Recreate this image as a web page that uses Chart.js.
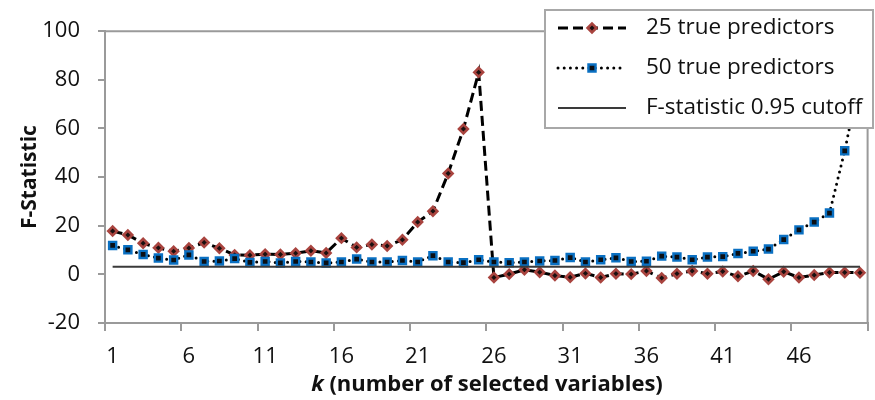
<!DOCTYPE html>
<html>
<head>
<meta charset="utf-8">
<script src="https://cdn.jsdelivr.net/npm/chart.js@4/dist/chart.umd.min.js"></script>
<style>
  html, body { margin: 0; padding: 0; background: #fff; }
  #wrap { width: 875px; height: 400px; }
</style>
</head>
<body>
<div id="wrap"><canvas id="chart" width="875" height="400"></canvas></div>
<script>
// k = number of selected variables
const kValues = ['1','2','3','4','5','6','7','8','9','10',
  '11','12','13','14','15','16','17','18','19','20',
  '21','22','23','24','25','26','27','28','29','30',
  '31','32','33','34','35','36','37','38','39','40',
  '41','42','43','44','45','46','47','48','49','50'];

// labels shown on the k axis
const kTickLabels = ['1','6','11','16','21','26','31','36','41','46'];

// F-statistic with 25 true predictors
const fStat25 = [17.8, 16.2, 12.8, 10.9, 9.5, 10.8, 13.1, 10.7, 8.0, 7.9,
  8.3, 8.2, 8.7, 9.7, 8.8, 14.9, 11.1, 12.3, 11.7, 14.2,
  21.5, 26.0, 41.5, 59.8, 83.1, -1.3, 0.1, 1.9, 0.9, -0.5,
  -1.2, 0.4, -1.3, 0.3, 0.1, 1.4, -1.5, 0.3, 1.4, 0.3,
  1.2, -0.8, 1.4, -2.0, 1.1, -1.3, -0.3, 0.8, 0.8, 0.7];

// F-statistic with 50 true predictors
const fStat50 = [11.9, 10.1, 8.2, 6.7, 5.9, 8.0, 5.3, 5.5, 6.5, 4.9,
  5.3, 4.7, 5.3, 5.1, 4.7, 5.1, 6.3, 5.1, 5.1, 5.7,
  5.1, 7.7, 5.1, 4.8, 6.0, 5.1, 4.8, 5.1, 5.5, 5.7,
  6.9, 5.1, 6.0, 6.8, 5.3, 5.4, 7.5, 7.1, 6.0, 7.1,
  7.3, 8.6, 9.5, 10.4, 14.3, 18.3, 21.5, 25.2, 50.8, 81.0];

// 0.95 critical value of the F distribution
const cutoffLevel = 3.1;
const cutoffSpan = ['1', '50'];

// y axis range
const yMin = -20, yMax = 100, yStep = 20;

const FONT = '"Open Sans", Lato, sans-serif';
const AXIS_GRAY = '#9a9a9a';
const TEXT = '#111111';

// Light frame on the top and right of the plot area
const plotFrame = {
  id: 'plotFrame',
  beforeDatasetsDraw(chart) {
    const { ctx, chartArea: a } = chart;
    ctx.save();
    ctx.strokeStyle = AXIS_GRAY;
    ctx.lineWidth = 2;
    ctx.beginPath();
    ctx.moveTo(a.left, a.top);
    ctx.lineTo(a.right, a.top);
    ctx.lineTo(a.right, a.bottom);
    ctx.stroke();
    ctx.restore();
  }
};

// k-axis title: italic "k" followed by the description
const kTitle = {
  id: 'kTitle',
  afterDraw(chart) {
    const { ctx } = chart;
    const o = chart.options.plugins.kTitle;
    const italic = 'italic bold ' + o.size + 'px ' + FONT;
    const bold = 'bold ' + o.size + 'px ' + FONT;
    ctx.save();
    ctx.fillStyle = TEXT;
    ctx.textBaseline = 'middle';
    ctx.font = italic;
    const w1 = ctx.measureText(o.italicPart).width;
    ctx.font = bold;
    const w2 = ctx.measureText(o.rest).width;
    const x0 = o.x - (w1 + w2) / 2;
    ctx.font = italic;
    ctx.textAlign = 'left';
    ctx.fillText(o.italicPart, x0, o.y);
    ctx.font = bold;
    ctx.fillText(o.rest, x0 + w1, o.y);
    ctx.restore();
  }
};

// Boxed legend in the upper right corner, drawn from the dataset styles
const boxLegend = {
  id: 'boxLegend',
  afterDraw(chart) {
    const { ctx } = chart;
    const o = chart.options.plugins.boxLegend;
    ctx.save();
    ctx.fillStyle = '#ffffff';
    ctx.fillRect(o.left, o.top, o.right - o.left, o.bottom - o.top);
    ctx.strokeStyle = '#a8a8a8';
    ctx.lineWidth = 2;
    ctx.strokeRect(o.left, o.top, o.right - o.left, o.bottom - o.top);
    chart.data.datasets.forEach((ds, i) => {
      const y = o.top + o.firstRow + i * o.rowGap;
      ctx.save();
      ctx.beginPath();
      ctx.setLineDash(ds.borderDash || []);
      ctx.lineCap = ds.borderCapStyle || 'butt';
      ctx.lineWidth = ds.borderWidth;
      ctx.strokeStyle = ds.borderColor;
      ctx.moveTo(o.sampleLeft, y);
      ctx.lineTo(o.sampleRight, y);
      ctx.stroke();
      ctx.restore();
      if (ds.pointRadius > 0) {
        ctx.save();
        ctx.fillStyle = ds.pointBackgroundColor;
        ctx.strokeStyle = ds.pointBorderColor;
        ctx.lineWidth = ds.pointBorderWidth;
        ctx.setLineDash([]);
        Chart.helpers.drawPoint(ctx, {
          pointStyle: ds.pointStyle, radius: ds.pointRadius,
          borderWidth: ds.pointBorderWidth, rotation: 0
        }, (o.sampleLeft + o.sampleRight) / 2, y);
        ctx.restore();
      }
      ctx.fillStyle = TEXT;
      ctx.font = o.fontSize + 'px ' + FONT;
      ctx.textBaseline = 'middle';
      ctx.textAlign = 'left';
      ctx.fillText(ds.label, o.textLeft, y);
    });
    ctx.restore();
  }
};

new Chart(document.getElementById('chart'), {
  type: 'line',
  data: {
    labels: kValues,
    datasets: [
      {
        label: '25 true predictors',
        data: fStat25,
        order: 3,
        borderColor: '#000000',
        borderWidth: 3,
        borderDash: [10, 5],
        borderCapStyle: 'butt',
        tension: 0,
        pointStyle: 'rectRot',
        pointRadius: 4.4,
        pointBorderWidth: 2.6,
        pointBackgroundColor: '#1a1010',
        pointBorderColor: '#a9443f'
      },
      {
        label: '50 true predictors',
        data: fStat50,
        order: 2,
        borderColor: '#000000',
        borderWidth: 3,
        borderDash: [0, 6.2],
        borderCapStyle: 'round',
        tension: 0,
        pointStyle: 'rect',
        pointRadius: 5,
        pointBorderWidth: 2.4,
        pointBackgroundColor: '#0b0f14',
        pointBorderColor: '#0a70c2'
      },
      {
        label: 'F-statistic 0.95 cutoff',
        data: cutoffSpan.map(k => ({ x: k, y: cutoffLevel })),
        order: 1,
        borderColor: '#3a3a3a',
        borderWidth: 2,
        tension: 0,
        pointRadius: 0
      }
    ]
  },
  options: {
    responsive: false,
    animation: false,
    events: [],
    layout: { padding: { top: 23, right: 3, left: 0, bottom: 0 } },
    plugins: {
      legend: { display: false },
      tooltip: { enabled: false },
      kTitle: { italicPart: 'k', rest: ' (number of selected variables)', size: 22, x: 487, y: 385 },
      boxLegend: {
        left: 545, top: 10, right: 873, bottom: 128,
        firstRow: 18, rowGap: 40,
        sampleLeft: 558, sampleRight: 626, textLeft: 646, fontSize: 22.5
      }
    },
    scales: {
      x: {
        type: 'category',
        offset: true,
        grid: {
          offset: true,
          drawOnChartArea: false,
          drawTicks: true,
          tickLength: 8,
          lineWidth: 2,
          color: c => (c.index === undefined || c.index % 5 === 0) ? AXIS_GRAY : 'rgba(0,0,0,0)'
        },
        border: { display: true, color: AXIS_GRAY, width: 2 },
        ticks: {
          autoSkip: false,
          maxRotation: 0,
          minRotation: 0,
          padding: 13,
          color: TEXT,
          font: { family: FONT, size: 22 },
          callback(value) {
            const lab = this.getLabelForValue(value);
            return kTickLabels.includes(lab) ? lab : '';
          }
        },
        afterFit(scale) { scale.height = 77; }
      },
      y: {
        min: yMin,
        max: yMax,
        grid: { drawOnChartArea: false, drawTicks: true, tickLength: 7, lineWidth: 2, color: AXIS_GRAY },
        border: { display: true, color: AXIS_GRAY, width: 2 },
        ticks: {
          stepSize: yStep,
          padding: 18,
          color: TEXT,
          font: { family: FONT, size: 22 }
        },
        title: {
          display: true,
          text: 'F-Statistic',
          color: TEXT,
          font: { family: FONT, size: 21, weight: 'bold' },
          padding: { top: 17, bottom: 0 }
        },
        afterFit(scale) { scale.width = 105; }
      }
    }
  },
  plugins: [plotFrame, kTitle, boxLegend]
});
</script>
</body>
</html>
